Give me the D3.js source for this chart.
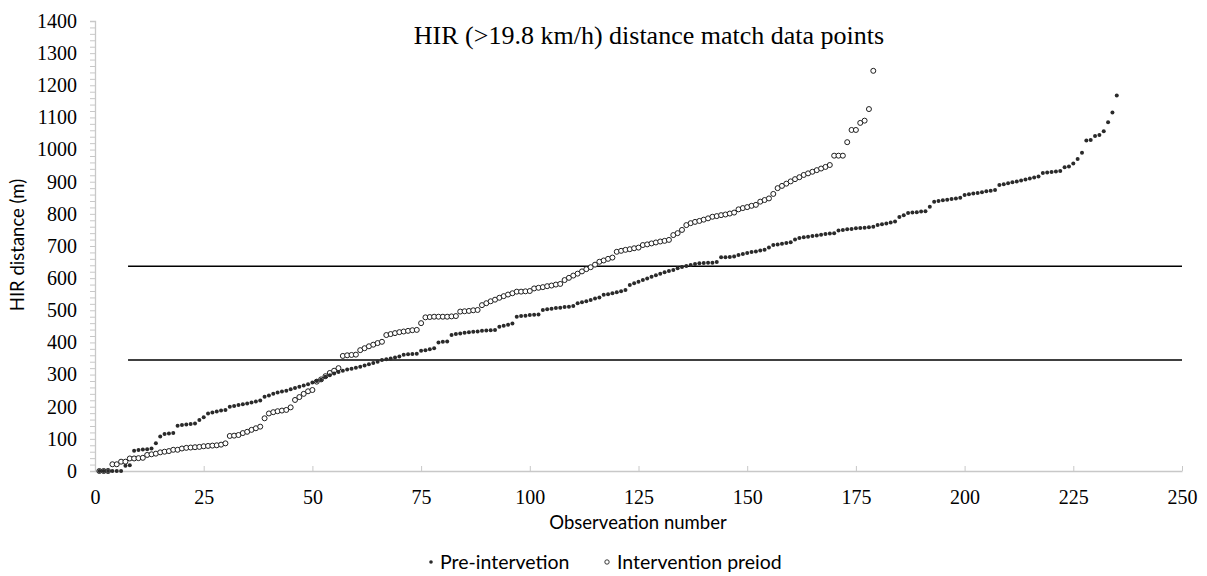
<!DOCTYPE html>
<html>
<head>
<meta charset="utf-8">
<script src="https://cdn.jsdelivr.net/npm/d3@7"></script>
<style>
  body { margin: 0; background: #fff; }
  #vis { width: 1207px; height: 576px; }
</style>
</head>
<body>
<div id="vis"></div>
<script>
const preIntervention = [
  0, 0, 0, 0, 0, 0, 16, 18, 63, 65,
  67, 68, 70, 86, 107, 115, 117, 118, 141, 143,
  145, 146, 148, 159, 167, 179, 182, 185, 188, 190,
  200, 202, 205, 208, 210, 213, 216, 219, 231, 235,
  240, 244, 247, 250, 254, 258, 262, 266, 270, 275,
  280, 284, 293, 298, 303, 308, 312, 316, 318, 321,
  324, 328, 332, 336, 340, 345, 348, 350, 353, 356,
  362, 363, 364, 365, 374, 376, 379, 382, 400, 402,
  403, 423, 426, 428, 430, 432, 433, 434, 436, 437,
  438, 439, 449, 452, 455, 459, 480, 482, 483, 485,
  486, 487, 501, 503, 505, 507, 508, 510, 511, 513,
  522, 525, 528, 532, 537, 540, 548, 550, 553, 556,
  559, 563, 579, 584, 589, 594, 599, 604, 609, 614,
  618, 622, 625, 631, 635, 638, 641, 644, 646, 647,
  648, 648, 650, 665, 665, 666, 667, 672, 675, 678,
  681, 683, 686, 688, 695, 703, 705, 707, 709, 712,
  720, 725, 727, 729, 731, 733, 735, 737, 739, 740,
  748, 750, 752, 753, 755, 756, 757, 758, 760, 765,
  768, 770, 773, 776, 790, 796, 803, 804, 805, 807,
  808, 822, 838, 840, 842, 844, 846, 848, 850, 859,
  861, 863, 865, 867, 870, 872, 874, 890, 892, 895,
  898, 901, 904, 907, 910, 913, 916, 927, 929, 930,
  932, 933, 945, 947, 957, 971, 990, 1028, 1030, 1042,
  1045, 1057, 1085, 1115, 1168
];

const interventionPeriod = [
  0, 0, 0, 21, 21, 29, 29, 39, 39, 40,
  41, 50, 52, 54, 58, 60, 62, 66, 66, 70,
  72, 73, 74, 75, 77, 78, 79, 80, 82, 86,
  109, 110, 112, 118, 122, 128, 133, 138, 164, 179,
  183, 186, 188, 190, 198, 221, 230, 240, 248, 252,
  278, 285, 295, 305, 312, 320, 358, 360, 361, 362,
  376, 382, 388, 393, 398, 402, 423, 426, 429, 432,
  434, 436, 438, 439, 460, 478, 479, 480, 480, 480,
  480, 481, 482, 496, 497, 498, 500, 501, 516, 522,
  528, 533, 539, 544, 549, 553, 558, 558, 559, 560,
  568, 570, 572, 575, 577, 580, 582, 594, 601, 608,
  614, 621, 628, 634, 642, 651, 655, 660, 664, 682,
  685, 688, 690, 693, 695, 703, 705, 708, 711, 714,
  716, 719, 734, 740, 750, 765, 771, 775, 778, 782,
  786, 791, 793, 796, 798, 801, 804, 814, 818, 821,
  825, 828, 838, 843, 848, 862, 880, 887, 894, 901,
  908, 914, 921, 926, 931, 936, 941, 946, 952, 981,
  981, 981, 1023, 1061, 1061, 1083, 1090, 1126, 1245
];

// the two horizontal reference lines
const refLines = [637, 345];
const refLineStart = 7.6;

const xTicks = [0, 25, 50, 75, 100, 125, 150, 175, 200, 225, 250];
const yTicks = [0, 100, 200, 300, 400, 500, 600, 700, 800, 900, 1000, 1100, 1200, 1300, 1400];

const seriesNames = ["Pre-intervetion", "Intervention preiod"];

const width = 1207, height = 576;
const margin = { top: 21, right: 25, bottom: 105, left: 95 };
const innerW = width - margin.left - margin.right;
const innerH = height - margin.top - margin.bottom;

const svg = d3.select("#vis").append("svg")
  .attr("width", width)
  .attr("height", height);

const g = svg.append("g")
  .attr("transform", "translate(" + margin.left + "," + margin.top + ")");

const x = d3.scaleLinear().domain([0, 250]).range([0, innerW]);
const y = d3.scaleLinear().domain([0, 1400]).range([innerH, 0]);

const axisGrey = "#c8c8c8";
const serif = "'Liberation Serif', 'Times New Roman', serif";
const sans = "Lato, 'Open Sans', sans-serif";

// y axis: minor ticks every 20, labels every 100
const yAxis = g.append("g")
  .call(d3.axisLeft(y).tickValues(d3.range(0, 1401, 20)).tickSize(5)
    .tickFormat(d => yTicks.includes(d) ? d : ""));
yAxis.attr("font-family", null);
yAxis.select(".domain").attr("stroke", axisGrey).attr("stroke-width", 1.3);
yAxis.selectAll(".tick line").attr("stroke", axisGrey);
yAxis.selectAll(".tick text")
  .attr("x", -18)
  .style("font-family", serif)
  .style("font-size", "20px")
  .attr("fill", "#000");

// x axis with ticks pointing up into the plot
const xAxis = g.append("g")
  .attr("transform", "translate(0," + innerH + ")")
  .call(d3.axisBottom(x).tickValues(xTicks).tickSize(-5).tickSizeOuter(0));
xAxis.attr("font-family", null);
xAxis.select(".domain").attr("stroke", axisGrey).attr("stroke-width", 1.3);
xAxis.selectAll(".tick line").attr("stroke", axisGrey);
xAxis.selectAll(".tick text")
  .attr("y", 33)
  .attr("dy", 0)
  .style("font-family", serif)
  .style("font-size", "20px")
  .attr("fill", "#000");

// reference lines
g.selectAll(".ref-line")
  .data(refLines)
  .enter().append("line")
  .attr("class", "ref-line")
  .attr("x1", x(refLineStart))
  .attr("x2", x(250))
  .attr("y1", d => y(d))
  .attr("y2", d => y(d))
  .attr("stroke", "#000")
  .attr("stroke-width", 1.5);

// intervention points (open circles)
g.selectAll(".int-pt")
  .data(interventionPeriod)
  .enter().append("circle")
  .attr("class", "int-pt")
  .attr("cx", (d, i) => x(i + 1))
  .attr("cy", d => y(d))
  .attr("r", 2.5)
  .attr("fill", "#fff")
  .attr("stroke", "#1e1e1e")
  .attr("stroke-width", 1);

// pre-intervention points (filled)
g.selectAll(".pre-pt")
  .data(preIntervention)
  .enter().append("circle")
  .attr("class", "pre-pt")
  .attr("cx", (d, i) => x(i + 1))
  .attr("cy", d => y(d))
  .attr("r", 2)
  .attr("fill", "#2a2a2a");

// title
svg.append("text")
  .attr("x", 649)
  .attr("y", 44)
  .attr("text-anchor", "middle")
  .style("font-family", serif)
  .style("font-size", "26px")
  .text("HIR (>19.8 km/h) distance match data points");

// axis titles
svg.append("text")
  .attr("transform", "translate(24,245) rotate(-90)")
  .attr("text-anchor", "middle")
  .style("font-family", sans)
  .style("font-size", "18.5px")
  .text("HIR distance (m)");

svg.append("text")
  .attr("x", 638)
  .attr("y", 529)
  .attr("text-anchor", "middle")
  .style("font-family", sans)
  .style("font-size", "18.5px")
  .text("Observeation number");

// legend
const legend = svg.append("g").attr("transform", "translate(0,562)");
legend.append("circle").attr("cx", 431).attr("cy", 0).attr("r", 1.8).attr("fill", "#2a2a2a");
legend.append("text").attr("x", 440).attr("y", 6.5)
  .style("font-family", sans).style("font-size", "19.5px").text(seriesNames[0]);
legend.append("circle").attr("cx", 607).attr("cy", 0).attr("r", 2.2)
  .attr("fill", "#fff").attr("stroke", "#222").attr("stroke-width", 0.9);
legend.append("text").attr("x", 617).attr("y", 6.5)
  .style("font-family", sans).style("font-size", "19.5px").text(seriesNames[1]);
</script>
</body>
</html>
